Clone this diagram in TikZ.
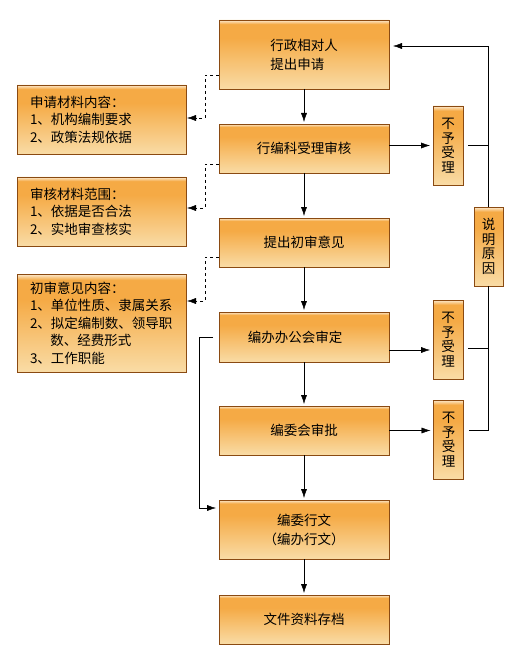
\documentclass[tikz,border=0pt]{standalone}
\usepackage{fontspec}
\newfontfamily\cjk{Noto Sans CJK SC}
\usetikzlibrary{arrows.meta,positioning}
\usepackage{xcolor}
\definecolor{boxtop}{HTML}{F5AA45}
\definecolor{boxbot}{HTML}{F9DCA6}
\definecolor{boxhi}{HTML}{FCEBD2}
\definecolor{boxline}{HTML}{8A4A12}
\pgfdeclareverticalshading{boxshade}{100bp}{color(0bp)=(boxbot); color(25bp)=(boxbot); color(62bp)=(boxtop); color(72bp)=(boxtop); color(75bp)=(boxhi); color(100bp)=(boxhi)}

\begin{document}
\begin{tikzpicture}[x=1pt,y=-1pt,node distance=45pt,>={Latex[length=9pt,width=6pt]},
  every node/.style={font=\cjk\fontsize{13.5}{19}\selectfont}]
\tikzstyle{mainbox}=[draw=boxline,line width=0.8pt,outer sep=0pt,shading=boxshade,minimum width=170pt,minimum height=49pt,inner sep=0pt,align=center]
\tikzstyle{notebox}=[draw=boxline,line width=0.8pt,outer sep=0pt,shading=boxshade,text width=143pt,inner xsep=13pt,inner ysep=0pt,minimum height=69pt,align=left,font=\cjk\fontsize{13.5}{17.5}\selectfont]
\tikzstyle{rejbox}=[draw=boxline,line width=0.8pt,outer sep=0pt,shading=boxshade,minimum width=30pt,minimum height=79pt,inner sep=0pt,align=center,font=\cjk\fontsize{13.5}{14.5}\selectfont]
\useasboundingbox (0,0) rectangle (520,668);
% main chain
\node[mainbox,minimum height=69pt,align=left] (apply) at (304,54.5) {行政相对人\\提出申请};
\node[mainbox,below=35pt of apply] (accept) {行编科受理审核};
\node[mainbox,below=of accept] (opinion) {提出初审意见};
\node[mainbox,minimum height=50pt,below=of opinion] (office) {编办办公会审定\hspace*{18pt}};
\node[mainbox,below=44pt of office] (commit) {编委会审批};
\node[mainbox,minimum height=59pt,below=of commit] (issue) {编委行文\\（编办行文）};
\node[mainbox,below=36pt of issue] (archive) {文件资料存档};
% notes on the left
\node[notebox] (mat) at (101.5,119.5) {申请材料内容：\\1、机构编制要求\\2、政策法规依据};
\node[notebox] (scope) at (101.5,211.5) {审核材料范围：\\1、依据是否合法\\2、实地审查核实};
\node[notebox,minimum height=98pt] (content) at (101.5,323) {初审意见内容：\\1、单位性质、隶属关系\\2、拟定编制数、领导职\\\hspace*{1.5em}数、经费形式\\3、工作职能};
% rejections
\node[rejbox] (rej1) at (448,145.5) {不\\予\\受\\理};
\node[rejbox] (rej2) at (448,339.5) {不\\予\\受\\理};
\node[rejbox] (rej3) at (448.5,439.5) {不\\予\\受\\理};
\node[rejbox,minimum width=29pt] (reason) at (488.5,246.5) {说\\明\\原\\因};
% connectors
\draw[->,shorten >=2pt] (apply) -- (accept);
\draw[->,shorten >=2pt] (accept) -- (opinion);
\draw[->,shorten >=2pt] (opinion) -- (office);
\draw[->,shorten >=2pt] (office) -- (commit);
\draw[->,shorten >=2pt] (commit) -- (issue);
\draw[->,shorten >=2pt] (issue) -- (archive);
\draw[->,shorten >=3pt] ([yshift=3pt]accept.east) -- ([yshift=3pt]accept.east -| rej1.west);
\draw[->,shorten >=3pt] ([yshift=-13pt]office.east) -- ([yshift=-13pt]office.east -| rej2.west);
\draw[->,shorten >=3pt] (commit.east) -- (commit.east -| rej3.west);
\draw[->,shorten >=4pt] (reason.north) |- ([yshift=8.5pt]apply.east);
\draw ([xshift=5pt]rej1.east) -- (rej1.east -| reason);
\draw ([xshift=5pt,yshift=-8.5pt]rej2.east) -- ([yshift=-8.5pt]rej2.east -| reason);
\draw (reason.south) |- ([xshift=5pt,yshift=9.5pt]rej3.east);
\draw[->,shorten >=3pt] ([xshift=-6pt]office.west) -- ++(-14,0) |- ([yshift=21.5pt]issue.west);
\draw[dashed,->,shorten >=1pt] ([yshift=-20.5pt]apply.west) -- ++(-14,0) |- ([yshift=1.5pt]mat.east);
\draw[dashed,->,shorten >=1pt] ([yshift=-15.5pt]accept.west) -- ++(-14,0) |- ([yshift=3.5pt]scope.east);
\draw[dashed,->,shorten >=1pt] ([yshift=-14.5pt]opinion.west) -- ++(-14,0) |- ([yshift=22pt]content.east);
\end{tikzpicture}
\end{document}
